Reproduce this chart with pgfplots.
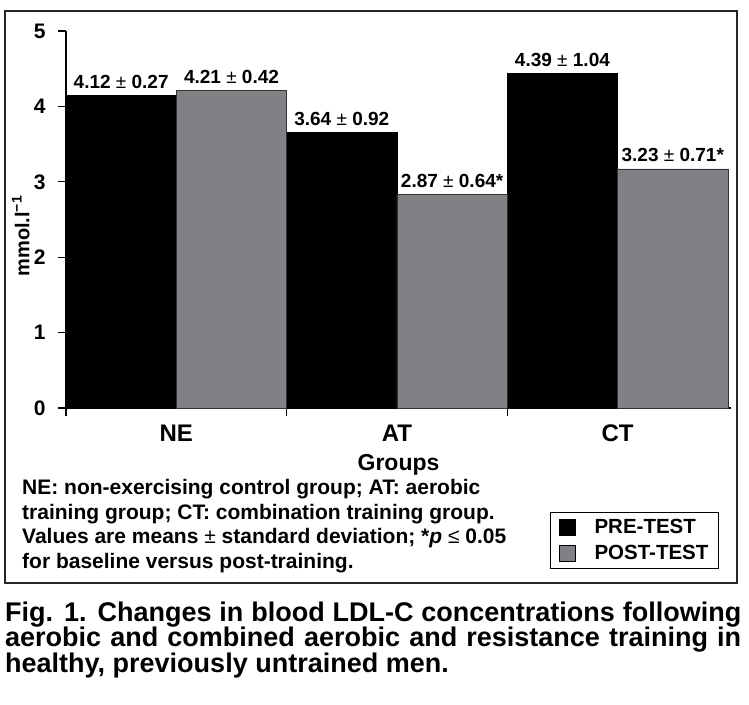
\documentclass[border=0pt]{standalone}
\usepackage{fontspec}
\setmainfont{Liberation Sans}
\usepackage{pgfplots}
\pgfplotsset{compat=1.18}
\definecolor{postgray}{RGB}{128,129,133}
\newcommand\PM{{\mdseries ±}}
\begin{document}
\begin{tikzpicture}
\path[use as bounding box] (0,0) rectangle (749pt,704pt);
\draw[line width=1.4pt, black!85] (5pt,121pt) rectangle (737pt,693pt);
\begin{axis}[
  at={(66pt,296pt)}, anchor=south west,
  scale only axis, width=665pt, height=377pt,
  xmin=-0.5, xmax=2.514, ymin=0, ymax=5,
  ybar, bar width=0.5,
  axis x line*=bottom, axis y line*=left,
  axis line style={line width=1.3pt, -},
  ytick={0,1,2,3,4,5},
  xtick={-0.5,0.5,1.5}, xticklabels={},
  tick align=outside, major tick length=8pt,
  tick style={line width=1.2pt, black},
  /pgf/number format/assume math mode=true,
  yticklabel style={font=\fontsize{21}{24}\selectfont\bfseries, xshift=-9pt},
  ylabel={mmol.l\textsuperscript{−1}},
  ylabel style={font=\fontsize{20}{22}\selectfont\bfseries, at={(axis description cs:-0.068,0.456)}, anchor=center},
  xlabel={Groups},
  xlabel style={font=\fontsize{23}{25}\selectfont\bfseries, at={(axis description cs:0.5,-0.1645)}, anchor=base},
  point meta=explicit symbolic,
  nodes near coords,
  every node near coord/.append style={anchor=base, yshift=7pt, font=\fontsize{19}{21}\selectfont\bfseries},
  area legend,
  legend image code/.code={\draw[#1, draw=black, line width=0.8pt] (0pt,-8pt) rectangle (16pt,8pt);},
  legend style={at={(0.728,-0.276)}, anchor=north west, draw=black, line width=1.2pt,
    font=\fontsize{20.5}{22}\selectfont\bfseries, inner xsep=8pt, inner ysep=5pt, row sep=6pt,
    /tikz/every odd column/.append style={column sep=17pt}},
  legend cell align=left,
  clip=false,
]
\addplot[bar shift=-0.25, fill=black, draw=black, line width=0.8pt]
  coordinates {(0,4.14) [4.12 \PM{} 0.27] (1,3.66) [3.64 \PM{} 0.92] (2,4.44) [4.39 \PM{} 1.04]};
\addplot[bar shift=0.25, fill=postgray, draw=black!80, line width=0.8pt]
  coordinates {(0,4.21) [4.21 \PM{} 0.42] (1,2.83) [2.87 \PM{} 0.64*] (2,3.17) [3.23 \PM{} 0.71*]};
\legend{PRE-TEST, POST-TEST}
\node[anchor=base, font=\fontsize{24}{26}\selectfont\bfseries] at ([yshift=-34pt]axis cs:0,0) {NE};
\node[anchor=base, font=\fontsize{24}{26}\selectfont\bfseries] at ([yshift=-34pt]axis cs:1,0) {AT};
\node[anchor=base, font=\fontsize{24}{26}\selectfont\bfseries] at ([yshift=-34pt]axis cs:2,0) {CT};
\end{axis}
\begin{scope}[every node/.style={anchor=base west, inner sep=0pt, font=\fontsize{21}{24.5}\selectfont\bfseries}]
\node at (22pt,209pt) {NE: non-exercising control group; AT: aerobic};
\node at (22pt,184.5pt) {training group; CT: combination training group.};
\node at (22pt,160pt) {Values are means {\mdseries ±} standard deviation; *\textit{p} {\mdseries ≤} 0.05};
\node at (22pt,135.5pt) {for baseline versus post-training.};
\end{scope}
\begin{scope}[every node/.style={anchor=base west, inner sep=0pt, font=\fontsize{27}{25.5}\selectfont\bfseries}]
\node at (5pt,83pt) {\makebox[736pt][s]{Fig. 1. Changes in blood LDL-C concentrations following}};
\node at (5pt,57.5pt) {\makebox[736pt][s]{aerobic and combined aerobic and resistance training in}};
\node at (5pt,32pt) {healthy, previously untrained men.};
\end{scope}
\end{tikzpicture}
\end{document}
